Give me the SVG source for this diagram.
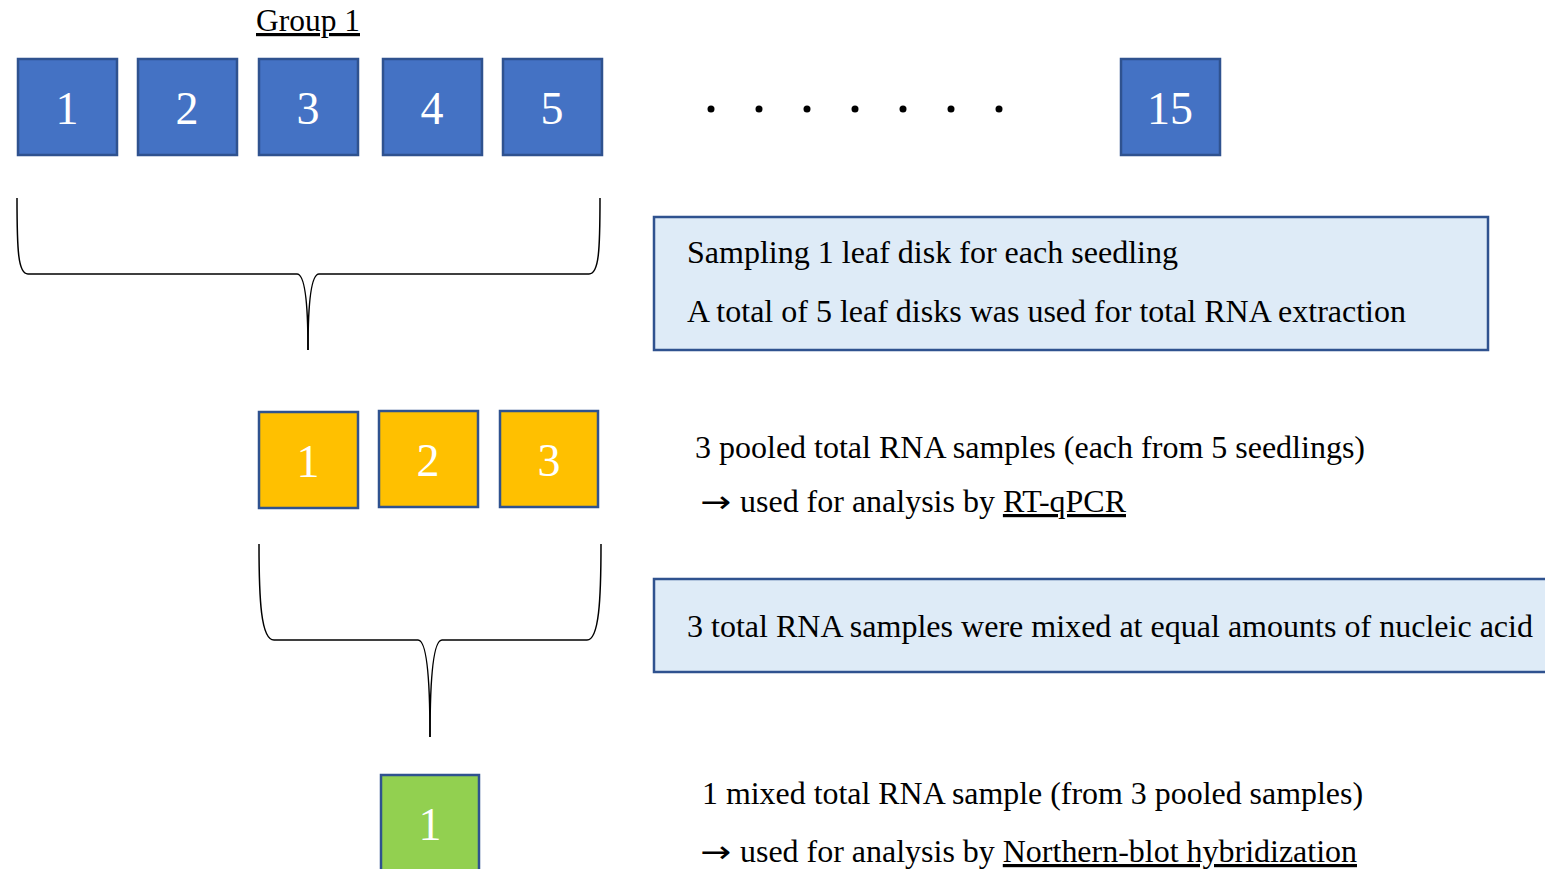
<svg xmlns="http://www.w3.org/2000/svg" width="1545" height="869" viewBox="0 0 1545 869">
<style>
.blue{fill:#4472C4;stroke:#2F528F;stroke-width:2.5}
.yellow{fill:#FFC000;stroke:#2F528F;stroke-width:2.5}
.green{fill:#92D050;stroke:#2F528F;stroke-width:2.5}
.note{fill:#DEEBF7;stroke:#2F528F;stroke-width:2.5}
.num{font-family:'Liberation Serif','DejaVu Serif','Noto Serif',serif;font-size:46px;fill:#FFFFFF;text-anchor:middle}
.txt{font-family:'Liberation Serif','DejaVu Serif','Noto Serif',serif;font-size:32px;fill:#000000}
.arr{font-family:'DejaVu Sans','Noto Sans',sans-serif;font-size:30px;fill:#000000}
.brace{fill:none;stroke:#000000;stroke-width:1.5}
</style>
<rect width="1545" height="869" fill="#FFFFFF"/>
<text class="txt" x="256" y="31" textLength="104" lengthAdjust="spacingAndGlyphs" text-decoration="underline">Group 1</text>
<g id="b1"><rect class="blue" x="18" y="59" width="99" height="96"/><text class="num" x="67" y="124">1</text></g>
<g id="b2"><rect class="blue" x="138" y="59" width="99" height="96"/><text class="num" x="187" y="124">2</text></g>
<g id="b3"><rect class="blue" x="259" y="59" width="99" height="96"/><text class="num" x="308" y="124">3</text></g>
<g id="b4"><rect class="blue" x="383" y="59" width="99" height="96"/><text class="num" x="432" y="124">4</text></g>
<g id="b5"><rect class="blue" x="503" y="59" width="99" height="96"/><text class="num" x="552" y="124">5</text></g>
<g id="dots" fill="#000000">
<circle cx="711" cy="109" r="3.5"/><circle cx="759" cy="109" r="3.5"/><circle cx="807" cy="109" r="3.5"/><circle cx="855" cy="109" r="3.5"/><circle cx="903" cy="109" r="3.5"/><circle cx="951" cy="109" r="3.5"/><circle cx="999" cy="109" r="3.5"/>
</g>
<g id="b15"><rect class="blue" x="1121" y="59" width="99" height="96"/><text class="num" x="1170" y="124">15</text></g>
<g id="note1"><rect class="note" x="654" y="217" width="834" height="133"/>
<text class="txt" x="687" y="263" textLength="491" lengthAdjust="spacingAndGlyphs">Sampling 1 leaf disk for each seedling</text>
<text class="txt" x="687" y="322" textLength="719" lengthAdjust="spacingAndGlyphs">A total of 5 leaf disks was used for total RNA extraction</text>
</g>
<g id="y1"><rect class="yellow" x="259" y="412" width="99" height="96"/><text class="num" x="308" y="477">1</text></g>
<g id="y2"><rect class="yellow" x="379" y="411" width="99" height="96"/><text class="num" x="428" y="476">2</text></g>
<g id="y3"><rect class="yellow" x="500" y="411" width="98" height="96"/><text class="num" x="549" y="476">3</text></g>
<g id="label2">
<text class="txt" x="695" y="458" textLength="670" lengthAdjust="spacingAndGlyphs">3 pooled total RNA samples (each from 5 seedlings)</text>
<text class="arr" x="700" y="512" textLength="31" lengthAdjust="spacingAndGlyphs">→</text>
<text class="txt" x="740" y="512" textLength="386" lengthAdjust="spacingAndGlyphs">used for analysis by <tspan text-decoration="underline">RT-qPCR</tspan></text>
</g>
<g id="note2"><rect class="note" x="654" y="579" width="900" height="93"/>
<text class="txt" x="687" y="637" textLength="846" lengthAdjust="spacingAndGlyphs">3 total RNA samples were mixed at equal amounts of nucleic acid</text>
</g>
<g id="g1"><rect class="green" x="381" y="775" width="98" height="110"/><text class="num" x="430" y="840">1</text></g>
<g id="label3">
<text class="txt" x="702" y="804" textLength="661" lengthAdjust="spacingAndGlyphs">1 mixed total RNA sample (from 3 pooled samples)</text>
<text class="arr" x="700" y="862" textLength="31" lengthAdjust="spacingAndGlyphs">→</text>
<text class="txt" x="740" y="862" textLength="617" lengthAdjust="spacingAndGlyphs">used for analysis by <tspan text-decoration="underline">Northern-blot hybridization</tspan></text>
</g>
<g id="connectors">
<path class="brace" d="M17,198 C17,250 18,274 28,274 L297,274 C304,274 308,295 308,350"/>
<path class="brace" d="M600,198 C600,250 599,274 589,274 L319,274 C312,274 308,295 308,350"/>
<path class="brace" d="M259,544 C259,600 261,640 274,640 L418,640 C426,640 430,670 430,737"/>
<path class="brace" d="M601,544 C601,600 599,640 587,640 L442,640 C434,640 430,670 430,737"/>
</g>
</svg>
